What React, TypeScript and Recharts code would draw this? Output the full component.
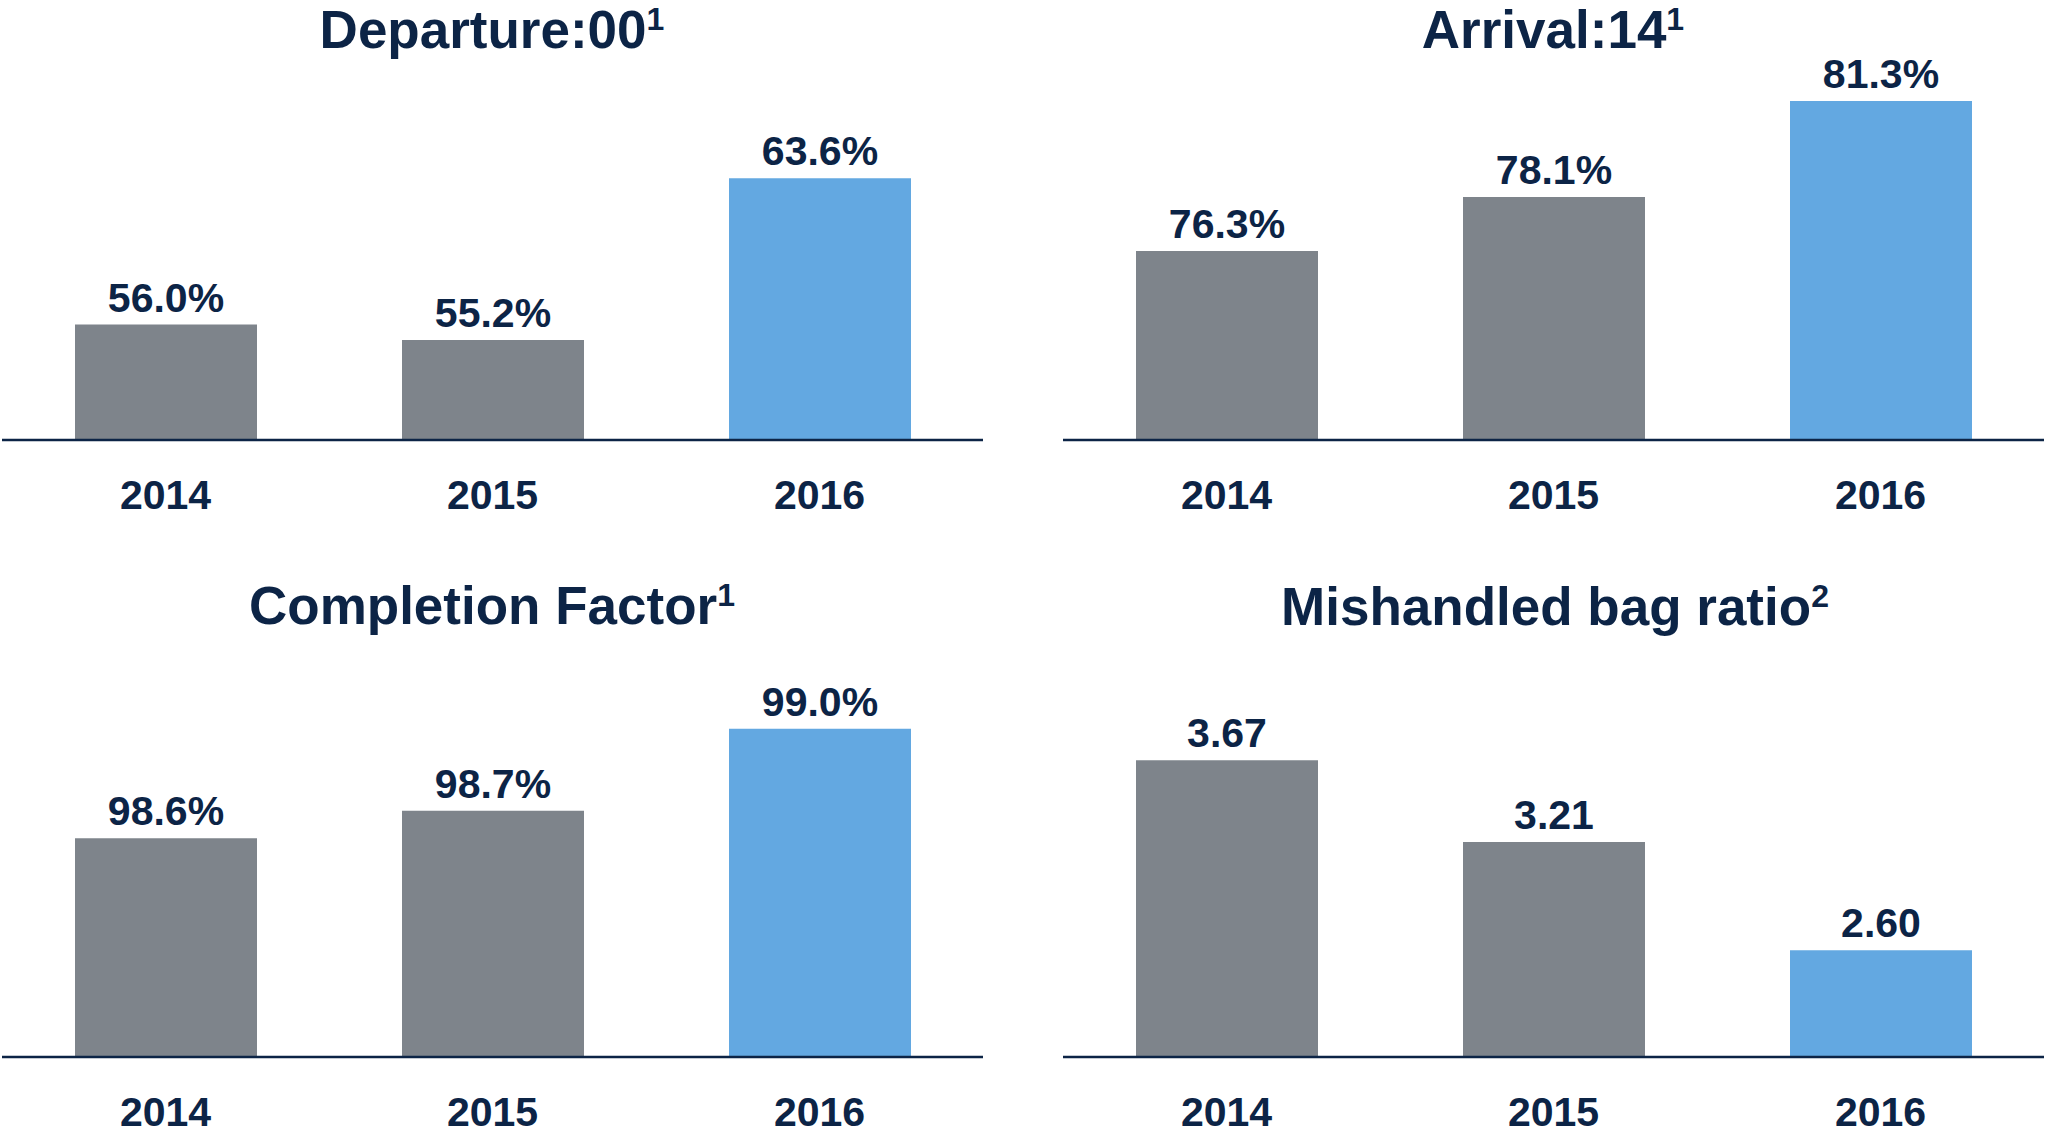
import { BarChart, Bar, XAxis, YAxis, Cell, LabelList } from "recharts";

const years = ["2014", "2015", "2016"];
const departure = [56.0, 55.2, 63.6];
const arrival = [76.3, 78.1, 81.3];
const completion = [98.6, 98.7, 99.0];
const bagRatio = [3.67, 3.21, 2.6];
const barColors = ["#7e848b", "#7e848b", "#63a8e1"];

const NAVY = "#0c2446";
const FONT = '"Liberation Sans", Arial, Helvetica, sans-serif';

interface PanelProps {
  values: number[];
  domain: [number, number];
  left: number;
  top: number;
  height: number;
  marginTop: number;
  digits: number;
  suffix: string;
}

function Panel({ values, domain, left, top, height, marginTop, digits, suffix }: PanelProps) {
  const data = years.map((year, i) => ({ year, value: values[i] }));
  return (
    <div style={{ position: "absolute", left, top }}>
      <BarChart
        width={985}
        height={height}
        data={data}
        margin={{ top: marginTop, right: 2, left: 2, bottom: 0 }}
      >
        <XAxis
          dataKey="year"
          height={100}
          axisLine={{ stroke: NAVY, strokeWidth: 2.5 }}
          tickLine={false}
          tickSize={0}
          tickMargin={40}
          tick={{ fill: NAVY, fontSize: 41, fontWeight: 700, fontFamily: FONT }}
        />
        <YAxis hide type="number" domain={domain} allowDataOverflow />
        <Bar dataKey="value" barSize={182} isAnimationActive={false}>
          {data.map((d, i) => (
            <Cell key={d.year} fill={barColors[i]} />
          ))}
          <LabelList
            dataKey="value"
            position="top"
            offset={13}
            formatter={(v: any) => `${Number(v).toFixed(digits)}${suffix}`}
            style={{ fill: NAVY, fontSize: 41, fontWeight: 700, fontFamily: FONT }}
          />
        </Bar>
      </BarChart>
    </div>
  );
}

function Title({ x, y, text, sup }: { x: number; y: number; text: string; sup: string }) {
  return (
    <text x={x} y={y} textAnchor="middle" fill={NAVY} fontFamily={FONT} fontWeight={700} fontSize={53}>
      {text}
      <tspan fontSize={32} dy={-18}>
        {sup}
      </tspan>
    </text>
  );
}

export default function App() {
  return (
    <div
      style={{
        position: "absolute",
        left: 0,
        top: 0,
        width: 2045,
        height: 1136,
        overflow: "hidden",
        background: "#ffffff",
      }}
    >
      <Panel values={departure} domain={[50, 70]} left={0} top={0} height={540} marginTop={55} digits={1} suffix="%" />
      <Panel values={arrival} domain={[70, 82]} left={1061} top={0} height={540} marginTop={80} digits={1} suffix="%" />
      <Panel values={completion} domain={[97.8, 99.2]} left={0} top={620} height={537} marginTop={54} digits={1} suffix="%" />
      <Panel values={bagRatio} domain={[2, 4.2]} left={1061} top={620} height={537} marginTop={46} digits={2} suffix="" />
      <svg
        width={2045}
        height={1136}
        style={{ position: "absolute", left: 0, top: 0, pointerEvents: "none" }}
      >
        <Title x={492} y={48} text="Departure:00" sup="1" />
        <Title x={1553} y={48} text="Arrival:14" sup="1" />
        <Title x={492} y={624} text="Completion Factor" sup="1" />
        <Title x={1555} y={625} text="Mishandled bag ratio" sup="2" />
      </svg>
    </div>
  );
}
